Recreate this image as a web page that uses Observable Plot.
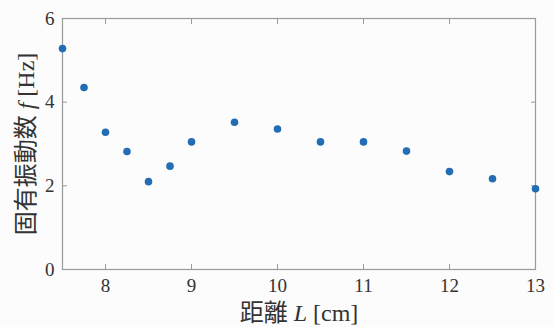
<!DOCTYPE html>
<html>
<head>
<meta charset="utf-8">
<script src="https://cdn.jsdelivr.net/npm/d3@7"></script>
<script src="https://cdn.jsdelivr.net/npm/@observablehq/plot@0.6"></script>
<style>
  html, body { margin: 0; padding: 0; background: #fcfcfc; }
  #chart svg { display: block; background: #fcfcfc; }
</style>
</head>
<body>
<div id="chart"></div>
<script>
const distance = [7.5, 7.75, 8, 8.25, 8.5, 8.75, 9, 9.5, 10, 10.5, 11, 11.5, 12, 12.5, 13];
const frequency = [5.28, 4.35, 3.28, 2.82, 2.10, 2.47, 3.05, 3.52, 3.36, 3.05, 3.05, 2.83, 2.34, 2.17, 1.93];
const xTicks = [8, 9, 10, 11, 12, 13];
const yTicks = [0, 2, 4, 6];
const xLabel = ["距離 ", "L", " [cm]"];
const yLabel = ["固有振動数 ", "f", " [Hz]"];

const data = distance.map((d, i) => ({x: d, y: frequency[i]}));
const latin = "\"Liberation Serif\", \"Times New Roman\", \"DejaVu Serif\", serif";
const font = "\"Liberation Serif\", \"Times New Roman\", \"Noto Sans CJK JP\", serif";
const gray = "#9a9a9a";

const svg = Plot.plot({
  width: 554,
  height: 327,
  marginLeft: 62,
  marginRight: 19,
  marginTop: 18,
  marginBottom: 58,
  style: {"font-family": font, "font-size": "19px", "color": "#333", "background": "#fcfcfc"},
  x: {domain: [7.5, 13]},
  y: {domain: [0, 6]},
  marks: [
    Plot.frame({stroke: gray, strokeWidth: 1.2}),
    Plot.axisX(xTicks, {anchor: "bottom", tickSize: -5, tickPadding: 14, stroke: gray, fill: "#333", fontSize: 19, label: null}),
    Plot.axisX(xTicks, {anchor: "top", tickSize: -5, tickFormat: () => "", stroke: gray, label: null}),
    Plot.axisY(yTicks, {anchor: "left", tickSize: -5, tickPadding: 13, stroke: gray, fill: "#333", fontSize: 19, label: null}),
    Plot.axisY(yTicks, {anchor: "right", tickSize: -5, tickFormat: () => "", stroke: gray, label: null}),
    Plot.dot(data, {x: "x", y: "y", r: 3.8, fill: "#236db5", stroke: "none"}),
    Plot.text([xLabel.join("")], {frameAnchor: "bottom", dy: 44, textAnchor: "middle", lineAnchor: "middle", fontSize: 24, fill: "#333", className: "xlab"}),
    Plot.text([yLabel.join("")], {frameAnchor: "left", dx: -36, rotate: -90, textAnchor: "middle", lineAnchor: "middle", fontSize: 24, fill: "#333", className: "ylab"})
  ]
});

function italicize(sel, parts) {
  const t = d3.select(svg).select(sel + " text");
  if (t.empty()) return;
  t.text(null);
  parts.forEach((p, i) => {
    const s = t.append("tspan").text(p);
    if (i === 1) s.attr("font-style", "italic");
  });
}
italicize("g.xlab", xLabel);
italicize("g.ylab", yLabel);
d3.select(svg).selectAll("text").style("font-family", font);
d3.select(svg).selectAll("text").filter(function() { return /^[0-9.\s]*$/.test(this.textContent); })
  .style("font-family", latin).style("font-variant-numeric", "normal");

document.getElementById("chart").appendChild(svg);
</script>
</body>
</html>
